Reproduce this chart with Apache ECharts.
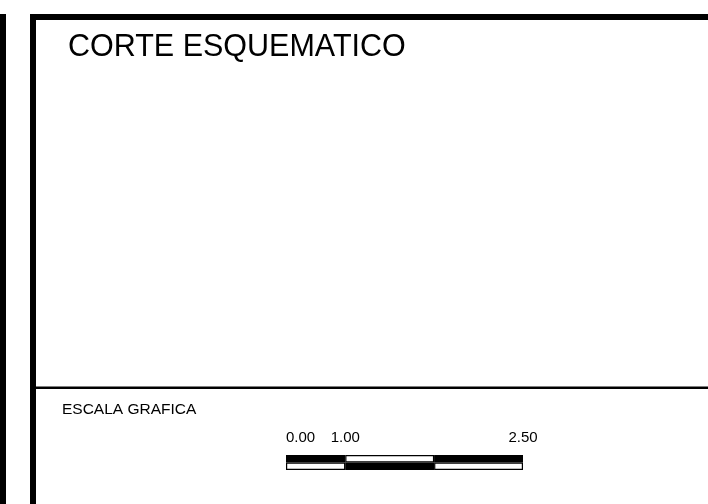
<!DOCTYPE html>
<html>
<head>
<meta charset="utf-8">
<script src="https://cdn.jsdelivr.net/npm/echarts@6/dist/echarts.min.js"></script>
<style>
html, body { margin: 0; padding: 0; background: #fff; }
#chart { width: 708px; height: 504px; }
</style>
</head>
<body>
<div id="chart"></div>
<script>
// scale bar ("escala grafica") data
var scaleRows = ['top', 'bottom'];
var segLengths = [1, 1.5, 1.5];          // 0 -> 1 -> 2.5 -> 4
var topColors = ['#000', '#fff', '#000'];
var bottomColors = ['#fff', '#000', '#fff'];
var scaleTickValues = [0, 1, 4];
var scaleTickLabels = ['0.00', '1.00', '2.50'];

var titleText = 'CORTE ESQUEMATICO';
var scaleTitle = 'ESCALA GRAFICA';

var font = '"Liberation Sans", Arial, sans-serif';

var chart = echarts.init(document.getElementById('chart'));

var series = segLengths.map(function (len, i) {
    return {
        type: 'bar',
        stack: 'scale',
        barWidth: '100%',
        silent: true,
        data: [
            {value: len, itemStyle: {color: topColors[i]}},
            {value: len, itemStyle: {color: bottomColors[i]}}
        ],
        itemStyle: {borderColor: '#000', borderWidth: 1.2}
    };
});

var options = {
    animation: false,
    backgroundColor: '#fff',
    title: {
        text: titleText,
        left: 68,
        top: 32,
        padding: 0,
        textStyle: {fontFamily: font, fontSize: 30.5, fontWeight: 'normal', color: '#000'}
    },
    grid: {left: 286, top: 455, width: 237, height: 15},
    xAxis: {
        type: 'value',
        position: 'top',
        min: 0,
        max: 4,
        splitLine: {show: false},
        axisLine: {show: false},
        axisTick: {show: false},
        axisLabel: {
            customValues: scaleTickValues,
            margin: 10,
            alignMinLabel: 'left',
            fontFamily: font,
            fontSize: 15,
            color: '#000',
            formatter: function (v) {
                var k = scaleTickValues.indexOf(v);
                return k >= 0 ? scaleTickLabels[k] : '';
            }
        }
    },
    yAxis: {
        type: 'category',
        data: scaleRows,
        inverse: true,
        show: false
    },
    series: series,
    graphic: [
        // sliver of neighbouring sheet
        {type: 'rect', shape: {x: 0, y: 14, width: 6, height: 490}, style: {fill: '#000'}},
        // main frame
        {type: 'rect', shape: {x: 30, y: 14, width: 678, height: 6}, style: {fill: '#000'}},
        {type: 'rect', shape: {x: 30, y: 14, width: 6, height: 490}, style: {fill: '#000'}},
        {type: 'rect', shape: {x: 36, y: 386.5, width: 672, height: 2.5}, style: {fill: '#000'}},
        {
            type: 'text', left: 62, top: 402,
            style: {text: scaleTitle, font: '15.5px ' + font, fill: '#000'}
        }
    ]
};

chart.setOption(options);
</script>
</body>
</html>
